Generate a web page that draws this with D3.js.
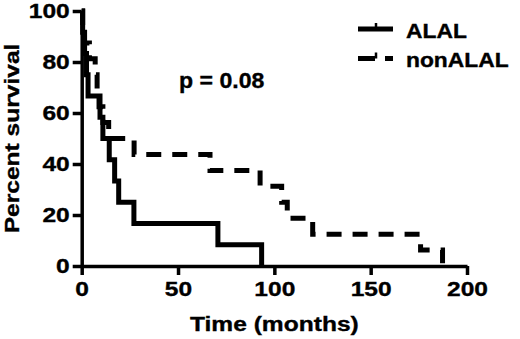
<!DOCTYPE html>
<html>
<head>
<meta charset="utf-8">
<script src="https://cdn.jsdelivr.net/npm/d3@7"></script>
<style>
    html, body { margin: 0; padding: 0; background: #fff; }
    svg { display: block; }
    text { font-family: "Liberation Sans", Arial, sans-serif; font-weight: bold; fill: #000; stroke: #000; stroke-width: 0.35px; }
</style>
</head>
<body>
<div id="chart"></div>
<script>
// Kaplan-Meier steps (months, % surviving)
const alalTimes = [0, 0.5, 1.5, 2.5, 3.3, 9.5, 11, 14.3, 17.1, 19.2, 27.1, 70.7, 93.4];
const alalSurvival = [100, 91.7, 83.3, 75, 66.7, 58.3, 50, 41.7, 33.3, 25, 16.7, 8.3, 0];

const nonAlalTimes = [0, 0.5, 1, 4, 7, 8, 9, 11, 14, 27.2, 66.6, 92.6, 103.8, 106.7, 119.9, 175.9, 187.3];
const nonAlalSurvival = [100, 93.75, 87.5, 81.25, 75, 68.75, 62.5, 56.25, 50, 43.75, 37.5, 31.25, 25, 18.75, 12.5, 6.25, 0];

const seriesNames = ['ALAL', 'nonALAL'];
const xTicks = [0, 50, 100, 150, 200];
const yTicks = [0, 20, 40, 60, 80, 100];
const pLabel = 'p = 0.08';

const width = 520, height = 339;
// lettering in the figure is a bit wider than plain Arial
const SX = 1.17;

const svg = d3.select('#chart').append('svg')
    .attr('width', width)
    .attr('height', height);

const x = d3.scaleLinear().domain([0, 200]).range([81.7, 467]);
const y = d3.scaleLinear().domain([0, 100]).range([266, 11]);

// Axes
const xAxis = svg.append('g')
    .attr('transform', `translate(0,${y(0)})`)
    .call(d3.axisBottom(x).tickValues(xTicks).tickSize(9).tickSizeOuter(0).tickPadding(6));

const yAxis = svg.append('g')
    .attr('transform', `translate(${x(0)},0)`)
    .call(d3.axisLeft(y).tickValues(yTicks).tickSize(9).tickSizeOuter(0).tickPadding(3));

[xAxis, yAxis].forEach(g => {
    g.select('.domain').attr('stroke', '#000').attr('stroke-width', 3.5);
    g.selectAll('.tick line').attr('stroke', '#000').attr('stroke-width', 3.5);
    g.selectAll('.tick text')
        .attr('font-family', null)
        .style('font-size', '21px');
});

// stretch tick labels horizontally without moving their anchor
yAxis.selectAll('.tick text').each(function() {
    const t = d3.select(this);
    t.attr('x', +t.attr('x') / SX).attr('transform', `scale(${SX},1)`);
});
xAxis.selectAll('.tick text').attr('transform', `scale(${SX},1)`);

function addText(str, px, py, size, anchor, rotate = 0, sx = SX) {
    return svg.append('text')
        .attr('transform', `translate(${px},${py}) rotate(${rotate}) scale(${sx},1)`)
        .attr('text-anchor', anchor)
        .style('font-size', size + 'px')
        .text(str);
}

// Axis titles
addText('Time (months)', (x(0) + x(200)) / 2, 331, 21, 'middle');
addText('Percent survival', 19, (y(0) + y(100)) / 2, 21, 'middle', -90);

// Survival curves
const line = d3.line()
    .x(d => x(d[0]))
    .y(d => y(d[1]))
    .curve(d3.curveStepAfter);

svg.append('path')
    .datum(d3.zip(alalTimes, alalSurvival))
    .attr('fill', 'none')
    .attr('stroke', '#000')
    .attr('stroke-width', 5)
    .attr('d', line);

svg.append('path')
    .datum(d3.zip(nonAlalTimes, nonAlalSurvival))
    .attr('fill', 'none')
    .attr('stroke', '#000')
    .attr('stroke-width', 5)
    .attr('stroke-dasharray', '15,11')
    .attr('d', line);

// p value
addText(pLabel, 179, 88, 22, 'start', 0, 1.05);

// Legend
const legendRows = [
    { name: seriesNames[0], dash: null, y: 29 },
    { name: seriesNames[1], dash: '17,10', y: 58.5 }
];
legendRows.forEach(r => {
    svg.append('line')
        .attr('x1', 358).attr('x2', 393)
        .attr('y1', r.y).attr('y2', r.y)
        .attr('stroke', '#000')
        .attr('stroke-width', 5)
        .attr('stroke-dasharray', r.dash);
    // censor tick
    svg.append('line')
        .attr('x1', 376).attr('x2', 376)
        .attr('y1', r.y - 6).attr('y2', r.y)
        .attr('stroke', '#000')
        .attr('stroke-width', 2.5);
    addText(r.name, 406, r.y + 8.5, 19.5, 'start');
});
</script>
</body>
</html>
